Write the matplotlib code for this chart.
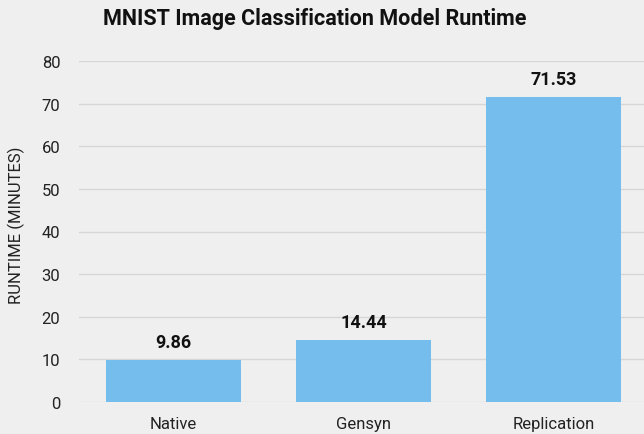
import matplotlib.pyplot as plt

plt.rcParams['font.family'] = ['Roboto', 'DejaVu Sans']

methods = ['Native', 'Gensyn', 'Replication']
runtime = [9.86, 14.44, 71.53]

bg = '#efefef'
fig = plt.figure(figsize=(6.44, 4.35), dpi=100, facecolor=bg)
ax = fig.add_axes([78.5 / 644, 1 - 403 / 435, 570 / 644, 341 / 435], facecolor=bg)

bars = ax.bar(methods, runtime, width=0.71, color='#74bdec', zorder=2)
for b, v in zip(bars, runtime):
    ax.text(b.get_x() + b.get_width() / 2, v + 2.2, f'{v:.2f}',
            ha='center', va='bottom', fontsize=13, fontweight='bold', color='#111111')

ax.set_ylim(0, 80)
ax.set_xlim(-0.5, 2.5)
ax.set_yticks(range(0, 81, 10))
ax.yaxis.grid(True, color='#d6d6d6', linewidth=1, zorder=0)
ax.tick_params(length=0, labelsize=12, colors='#222222', pad=13)
ax.tick_params(axis='x', pad=10)
for s in ax.spines.values():
    s.set_visible(False)

ax.set_ylabel('RUNTIME (MINUTES)', fontsize=12, color='#222222')
ax.yaxis.set_label_coords(-0.094, 0.52)
fig.text(315 / 644, 1 - 19 / 435, 'MNIST Image Classification Model Runtime',
         ha='center', va='center', fontsize=15.5, fontweight='bold', color='#111111')

fig.savefig('out.png', dpi=100, facecolor=bg)
